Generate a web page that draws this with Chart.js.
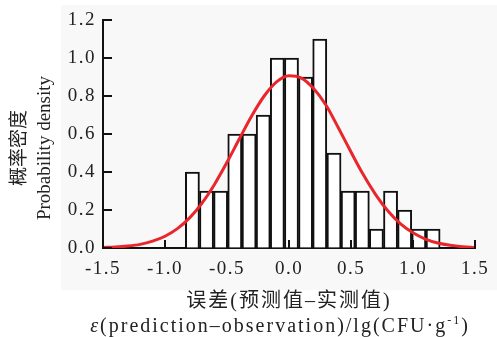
<!DOCTYPE html>
<html>
<head>
<meta charset="utf-8">
<script src="https://cdn.jsdelivr.net/npm/chart.js@4"></script>
<style>
  html, body { margin: 0; padding: 0; background: #fff; }
  #wrap { width: 497px; height: 337px; position: relative; }
</style>
</head>
<body>
<div id="wrap"><canvas id="chart" width="497" height="337"></canvas></div>
<script>
// histogram bins (centres) and their densities
const binCenters = [-0.779, -0.665, -0.551, -0.437, -0.322, -0.208, -0.094, 0.020, 0.134,
  0.248, 0.363, 0.477, 0.591, 0.705, 0.819, 0.933, 1.047, 1.162];
const density = [0.4, 0.3, 0.3, 0.6, 0.6, 0.7, 1.0, 1.0, 0.9, 1.1, 0.5, 0.3, 0.3, 0.1, 0.3, 0.2, 0.1, 0.1];

// red fitted curve
const curveX = [-1.5, -1.4, -1.3, -1.2, -1.1, -1.0, -0.9, -0.8, -0.7, -0.6, -0.5, -0.4, -0.3, -0.2, -0.1,
  0.0, 0.1, 0.2, 0.3, 0.4, 0.5, 0.6, 0.7, 0.8, 0.9, 1.0, 1.1, 1.2, 1.3, 1.4, 1.5];
const curveY = [0.003, 0.005, 0.010, 0.019, 0.036, 0.062, 0.102, 0.160, 0.238, 0.336, 0.451, 0.575, 0.696,
  0.800, 0.874, 0.906, 0.894, 0.838, 0.750, 0.630, 0.505, 0.385, 0.280, 0.193, 0.127, 0.080, 0.047, 0.026,
  0.014, 0.007, 0.003];

const xTicks = [-1.5, -1.0, -0.5, 0.0, 0.5, 1.0, 1.5];
const yTicks = [0.0, 0.2, 0.4, 0.6, 0.8, 1.0, 1.2];

const xTitle = "误差(预测值–实测值)";
const yTitle = ["概率密度", "Probability density"];

const serif = '"Liberation Serif", "Noto Sans CJK SC", serif';

const decor = {
  id: "decor",
  beforeDraw: (chart) => {
    const { ctx } = chart;
    ctx.save();
    ctx.fillStyle = "#fff";
    ctx.fillRect(0, 0, chart.width, chart.height);
    ctx.fillStyle = "#f8f8f8";
    ctx.fillRect(61, 5, chart.width - 61, 285);
    ctx.restore();
    // wider spacing for the tick labels, like the original
    ctx.letterSpacing = "1.5px";
  },
  afterDraw: (chart) => {
    const { ctx, scales } = chart;
    const x = scales.x, y = scales.y;
    ctx.save();
    // inward tick marks
    ctx.strokeStyle = "#111";
    ctx.lineWidth = 2;
    ctx.beginPath();
    xTicks.forEach((v) => {
      const px = Math.round(x.getPixelForValue(v));
      ctx.moveTo(px, y.bottom);
      ctx.lineTo(px, y.bottom - 8);
    });
    yTicks.forEach((v) => {
      const py = Math.round(y.getPixelForValue(v));
      ctx.moveTo(x.left, py);
      ctx.lineTo(x.left + 9, py);
    });
    ctx.stroke();

    // axis titles
    ctx.fillStyle = "#222";
    ctx.textBaseline = "middle";
    ctx.textAlign = "center";
    ctx.letterSpacing = "2px";
    const cx = (x.left + x.right) / 2;
    ctx.font = "20px " + serif;
    ctx.fillText(xTitle, cx, 302);

    // second line with italic epsilon and superscript
    const parts = [
      { t: "ε", f: "italic 20px " + serif, dy: 0 },
      { t: "(prediction–observation)/lg(CFU·g", f: "20px " + serif, dy: 0 },
      { t: "-1", f: "12px " + serif, dy: -6 },
      { t: ")", f: "20px " + serif, dy: 0 },
    ];
    let total = 0;
    parts.forEach((p) => { ctx.font = p.f; p.w = ctx.measureText(p.t).width; total += p.w; });
    let sx = 280 - total / 2;
    ctx.textAlign = "left";
    parts.forEach((p) => {
      ctx.font = p.f;
      ctx.fillText(p.t, sx, 327 + p.dy);
      sx += p.w;
    });

    // y title, rotated
    ctx.letterSpacing = "0px";
    ctx.textAlign = "center";
    ctx.translate(0, 148);
    ctx.rotate(-Math.PI / 2);
    ctx.font = "19px " + serif;
    ctx.fillText(yTitle[0], 0, 20);
    ctx.fillText(yTitle[1], 0, 45);
    ctx.restore();
  },
};

function onload() {
  new Chart(document.getElementById("chart"), {
    type: "bar",
    data: {
      datasets: [
        {
          type: "line",
          data: curveX.map((v, i) => ({ x: v, y: curveY[i] })),
          borderColor: "#e8262b",
          borderWidth: 3,
          pointRadius: 0,
          cubicInterpolationMode: "monotone",
          fill: false,
          order: 0,
        },
        {
          type: "bar",
          data: binCenters.map((v, i) => ({ x: v, y: density[i] })),
          backgroundColor: "#fff",
          borderColor: "#111",
          borderWidth: 2,
          borderSkipped: "bottom",
          barPercentage: 1,
          categoryPercentage: 1,
          order: 1,
        },
      ],
    },
    options: {
      responsive: false,
      animation: false,
      layout: { padding: { left: 0, top: 20, right: 22, bottom: 0 } },
      plugins: { legend: { display: false }, tooltip: { enabled: false } },
      scales: {
        x: {
          type: "linear",
          min: -1.5,
          max: 1.5,
          offset: false,
          grid: { display: true, drawOnChartArea: false, drawTicks: false, offset: false },
          border: { display: true, color: "#111", width: 2 },
          afterBuildTicks: (s) => { s.ticks = xTicks.map((v) => ({ value: v })); },
          afterFit: (s) => { s.height = 89; },
          ticks: {
            color: "#222",
            padding: 10,
            maxRotation: 0,
            font: { family: serif, size: 19 },
            callback: (v) => v.toFixed(1),
          },
        },
        y: {
          min: 0,
          max: 1.2,
          grid: { display: true, drawOnChartArea: false, drawTicks: false },
          border: { display: true, color: "#111", width: 2 },
          afterBuildTicks: (s) => { s.ticks = yTicks.map((v) => ({ value: v })); },
          afterFit: (s) => { s.width = 103; },
          ticks: {
            color: "#222",
            padding: 7,
            font: { family: serif, size: 19 },
            callback: (v) => v.toFixed(1),
          },
        },
      },
    },
    plugins: [decor],
  });
}
onload();
</script>
</body>
</html>
